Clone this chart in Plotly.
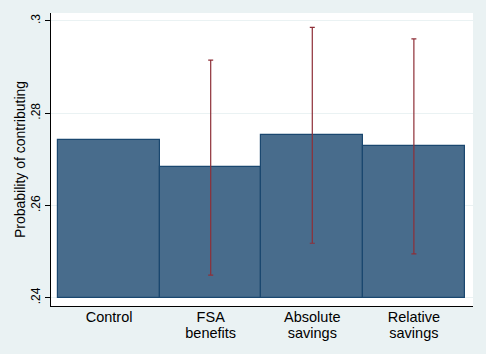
import plotly.graph_objects as go

categories_line1 = ["Control", "FSA", "Absolute", "Relative"]
categories_line2 = ["", "benefits", "savings", "savings"]
means = [0.2741, 0.2683, 0.2753, 0.2729]
ci_low = [None, 0.2449, 0.2518, 0.2495]
ci_high = [None, 0.2915, 0.2986, 0.2961]
base_value = 0.24
y_ticks = [0.24, 0.26, 0.28, 0.30]
y_tick_labels = [".24", ".26", ".28", ".3"]

xpos = list(range(len(categories_line1)))
font = "Liberation Sans, Arial, sans-serif"
xrange = [-0.572, 3.582]

fig = go.Figure()
fig.add_trace(go.Bar(
    x=xpos,
    y=[m - base_value for m in means],
    base=base_value,
    width=1.0,
    marker=dict(color="#486C8C", line=dict(color="#1A476F", width=1.2)),
    hoverinfo="skip",
))

ex, ey, eplus, eminus = [], [], [], []
for i, (m, lo, hi) in enumerate(zip(means, ci_low, ci_high)):
    if lo is None:
        continue
    ex.append(xpos[i]); ey.append(m)
    eplus.append(hi - m); eminus.append(m - lo)

fig.add_trace(go.Scatter(
    x=ex, y=ey, mode="markers",
    marker=dict(size=0.1, color="rgba(0,0,0,0)"),
    error_y=dict(type="data", symmetric=False, array=eplus, arrayminus=eminus,
                 color="#8E2F38", thickness=1.2, width=2.5),
    hoverinfo="skip",
))

# invisible trace so the second-line label axis is drawn
fig.add_trace(go.Scatter(
    x=xpos, y=means, xaxis="x2", mode="markers",
    marker=dict(size=0.1, color="rgba(0,0,0,0)"),
    hoverinfo="skip",
))

fig.update_layout(
    width=486, height=354,
    margin=dict(l=51, r=13, t=13, b=48),
    paper_bgcolor="#EAF2F3",
    plot_bgcolor="#FFFFFF",
    showlegend=False,
    bargap=0,
    font=dict(family=font, size=14, color="#000000"),
    xaxis=dict(
        range=xrange,
        tickmode="array", tickvals=xpos, ticktext=categories_line1,
        ticks="", ticklabelstandoff=-2,
        showline=True, linecolor="#000000", linewidth=1,
        showgrid=False, zeroline=False, automargin=False,
        tickfont=dict(size=14.5),
    ),
    xaxis2=dict(
        overlaying="x", side="bottom", anchor="y",
        range=xrange,
        tickmode="array", tickvals=xpos, ticktext=categories_line2,
        ticks="outside", ticklen=14, tickcolor="rgba(0,0,0,0)",
        showline=False, showgrid=False, zeroline=False, automargin=False,
        tickfont=dict(size=14.5),
    ),
    yaxis=dict(
        range=[0.2382, 0.3017],
        tickmode="array", tickvals=y_ticks, ticktext=y_tick_labels,
        tickangle=-90,
        ticks="outside", ticklen=5, tickcolor="#000000",
        showline=True, linecolor="#000000", linewidth=1,
        showgrid=True, gridcolor="#EAF2F3", gridwidth=1,
        zeroline=False, automargin=False,
        tickfont=dict(size=12),
        title=dict(text="Probability of contributing", font=dict(size=14), standoff=0),
    ),
)

fig.write_html("out.html")
